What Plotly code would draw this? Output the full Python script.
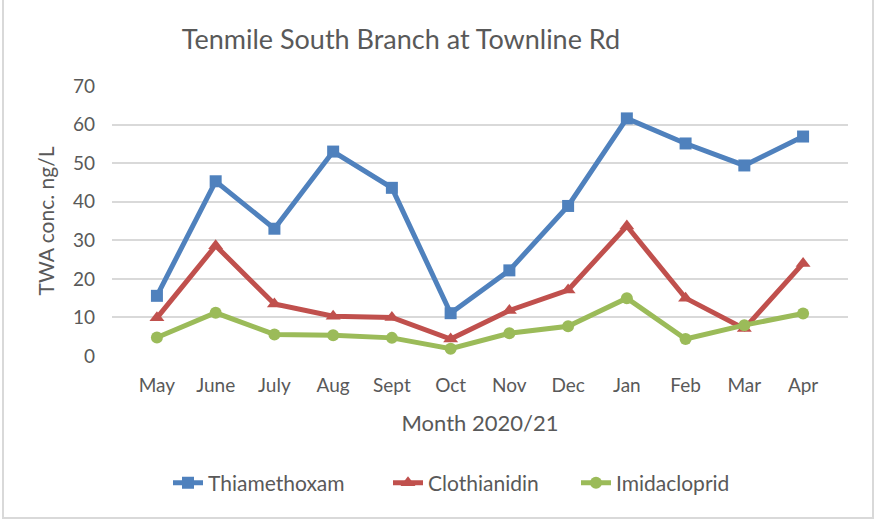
import plotly.graph_objects as go

# monthly TWA concentrations, ng/L
months = ["May", "June", "July", "Aug", "Sept", "Oct", "Nov", "Dec", "Jan", "Feb", "Mar", "Apr"]
thiamethoxam = [15.6, 45.3, 33.0, 53.0, 43.6, 11.1, 22.2, 38.9, 61.6, 55.1, 49.4, 56.9]
clothianidin = [9.9, 28.6, 13.5, 10.3, 10.0, 4.4, 11.8, 17.1, 33.7, 15.0, 7.1, 24.0]
imidacloprid = [4.8, 11.2, 5.6, 5.4, 4.7, 1.9, 5.9, 7.7, 15.0, 4.4, 8.0, 11.0]

W, H = 875, 522
L, R, T, B = 112, 27, 86, 166
pw, ph = W - L - R, H - T - B


def px(x):
    return (x - L) / pw


def py(y):
    return (H - B - y) / ph


grey = "#595959"
font = "Lato"

# name, values, colour, marker, marker size, legend id, legend text left edge (px)
series = [
    ("Thiamethoxam", thiamethoxam, "#4f81bd", "square", 12, "legend", 209),
    ("Clothianidin", clothianidin, "#c0504d", "triangle-up", 13, "legend2", 429),
    ("Imidacloprid", imidacloprid, "#9bbb59", "circle", 12, "legend3", 617),
]

fig = go.Figure()
legends = {}
for name, ys, color, symbol, size, leg, tx in series:
    fig.add_trace(go.Scatter(
        x=months, y=ys, name=name, mode="lines+markers", legend=leg,
        line=dict(color=color, width=5),
        marker=dict(symbol=symbol, size=size, color=color),
    ))
    legends[leg] = dict(orientation="h", x=px(tx - 41), xanchor="left", y=py(483),
                        yanchor="middle", font=dict(size=21, color=grey),
                        bgcolor="rgba(0,0,0,0)")

fig.update_layout(
    width=W, height=H,
    margin=dict(l=L, r=R, t=T, b=B),
    plot_bgcolor="white", paper_bgcolor="white",
    showlegend=True,
    font=dict(family=font, size=19, color=grey),
    title=dict(text="Tenmile South Branch at Townline Rd", x=px(401), xanchor="center",
               xref="paper", y=1 - 40 / H, yanchor="middle",
               font=dict(size=27, color=grey)),
    xaxis=dict(showgrid=False, showline=False, ticks="", tickfont=dict(size=19, color=grey),
               ticklabelstandoff=16,
               title=dict(text="Month 2020/21", font=dict(size=22, color=grey), standoff=20)),
    yaxis=dict(range=[0, 70], dtick=10, gridcolor="#d9d9d9", gridwidth=1.5, zeroline=False,
               tickfont=dict(size=19, color=grey), ticklabelstandoff=16,
               title=dict(text="TWA conc. ng/L", font=dict(size=21, color=grey), standoff=12)),
    shapes=[dict(type="rect", xref="paper", yref="paper",
                 x0=px(3), x1=px(873), y0=py(518), y1=py(-5),
                 line=dict(color="#d9d9d9", width=2))],
    **legends,
)

# drop the default page margin so the figure starts at the window corner
fig.write_html("out.html", config={"displayModeBar": False},
               post_script="document.body.style.margin = '0';")
